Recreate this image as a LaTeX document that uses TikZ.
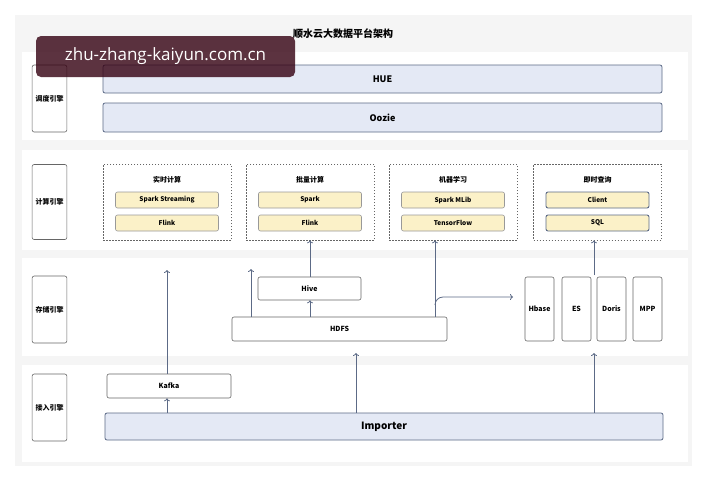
\documentclass[tikz,border=0pt]{standalone}
\usepackage{fontspec}
\usetikzlibrary{arrows.meta}
\setmainfont{Noto Sans CJK SC}
\newfontfamily\cjk{Noto Sans CJK SC}
\newfontfamily\wm{Open Sans}
\definecolor{arrc}{HTML}{5C6A86}
\definecolor{bfill}{HTML}{E4E9F5}
\definecolor{yfill}{HTML}{FBF1C8}
\begin{document}
\begin{tikzpicture}[x=1pt,y=-1pt,
 lab/.style={draw=black!60,rounded corners=2pt,fill=white,line width=0.6pt,font=\cjk\bfseries\fontsize{7}{8}\selectfont},
 bluebox/.style={draw=arrc,rounded corners=2pt,fill=bfill,line width=0.8pt,font=\bfseries\fontsize{9}{10}\selectfont},
 wbox/.style={draw=black!60,rounded corners=2pt,fill=white,line width=0.6pt,font=\bfseries\fontsize{7}{8}\selectfont},
 ybox/.style={draw=black!40,rounded corners=2pt,fill=yfill,line width=0.6pt,font=\bfseries\fontsize{6.5}{7}\selectfont},
 qbox/.style={ybox,draw=arrc,line width=0.9pt},
 dbox/.style={draw=black!60,dash pattern=on 1.5pt off 1.5pt,line width=0.6pt},
 hd/.style={font=\cjk\bfseries\fontsize{7}{8}\selectfont},
 arr/.style={-{To[length=3pt,width=6pt]},draw=arrc,line width=0.8pt}]
\useasboundingbox (0,0) rectangle (707,480);
\fill[white] (0,0) rectangle (707,480);
\fill[black!4] (15,15) rectangle (692,466);
\foreach \a/\b in {52/140,150/250,258/356,365/462}
  \fill[white] (22,\a) rectangle (688,\b);
\node[font=\cjk\bfseries\fontsize{10}{12}\selectfont] (title) at (343,34) {顺水云大数据平台架构};
% row labels
\node[lab,minimum width=33,minimum height=67] (l1) at (49.5,98.5) {调度引擎};
\node[lab,minimum width=33,minimum height=75] (l2) at (49.5,202) {计算引擎};
\node[lab,minimum width=33,minimum height=67] (l3) at (49.5,309.5) {存储引擎};
\node[lab,minimum width=33,minimum height=67] (l4) at (49.5,407.5) {接入引擎};
% row1
\node[bluebox,minimum width=559,minimum height=28] (hue) at (382.5,79) {HUE};
\node[bluebox,minimum width=559,minimum height=29] (oozie) at (382.5,117.5) {Oozie};
% row2
\foreach \n/\x/\h/\a/\b/\s in {rt/167/实时计算/Spark Streaming/Flink/ybox,bt/310/批量计算/Spark/Flink/ybox,ml/453/机器学习/Spark MLib/TensorFlow/ybox,q/597.5/即时查询/Client/SQL/qbox}{
  \node[dbox,minimum width=128,minimum height=76] (\n) at (\x,202) {};
  \node[hd] (\n h) at (\x,180) {\h};
  \node[\s,minimum width=103,minimum height=16] (\n a) at (\x,200) {\a};
  \node[\s,minimum width=103,minimum height=16] (\n b) at (\x,223) {\b};
}
% row3
\node[wbox,minimum width=103,minimum height=23] (hive) at (309.5,288.5) {Hive};
\node[wbox,minimum width=215,minimum height=24] (hdfs) at (339.5,329) {HDFS};
\node[wbox,minimum width=29,minimum height=64] (hbase) at (539.5,309) {Hbase};
\node[wbox,minimum width=29,minimum height=64] (es) at (576.5,309) {ES};
\node[wbox,minimum width=29,minimum height=64] (doris) at (611.5,309) {Doris};
\node[wbox,minimum width=29,minimum height=64] (mpp) at (647.5,309) {MPP};
% row4
\node[wbox,minimum width=124,minimum height=24] (kafka) at (169,386) {Kafka};
\node[bluebox,minimum width=558,minimum height=27,font=\bfseries\fontsize{10}{11}\selectfont] (imp) at (384,426.5) {Importer};
% arrows
\coordinate (k1) at (167,270);
\draw[arr] (kafka.north -| k1) -- (k1);
\draw[arr] (imp.north -| k1) -- (kafka.south -| k1);
\coordinate (h1) at (251,269);
\draw[arr] (hdfs.north -| h1) -- (h1);
\coordinate (hx) at (310,0);
\draw[arr] (hdfs.north -| hx) -- (hive.south -| hx);
\draw[arr] (hive.north -| hx) -- (bt.south -| hx);
\coordinate (mx) at (435,0);
\draw[arr] (hdfs.north -| mx) -- (ml.south -| mx);
\coordinate (br) at (513,297);
\draw[arr] (435,305) to[out=90,in=180] (443,297) -- (br);
\coordinate (q1) at (594,275);
\draw[arr] (q1) -- (q.south -| q1);
\coordinate (i1) at (356,353);
\draw[arr] (imp.north -| i1) -- (i1);
\coordinate (i2) at (594,353);
\draw[arr] (imp.north -| i2) -- (i2);
% watermark
\node[fill=black!55!purple!60!black,fill opacity=0.8,text opacity=1,text=white,rounded corners=5pt,minimum width=259,minimum height=41,font=\wm\fontsize{17}{20}\selectfont] (wm) at (165.5,56.5) {zhu-zhang-kaiyun.com.cn};
\end{tikzpicture}
\end{document}
